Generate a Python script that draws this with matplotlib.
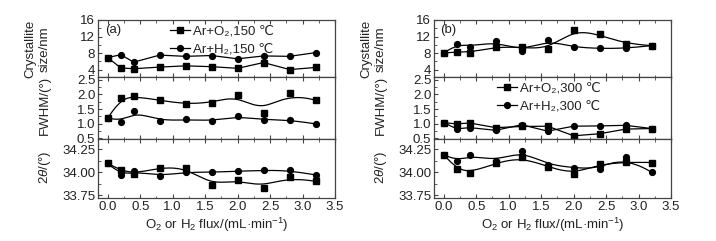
import numpy as np
import matplotlib
matplotlib.use("Agg")
import matplotlib.pyplot as plt
from matplotlib.ticker import MultipleLocator, FormatStrFormatter
from matplotlib.lines import Line2D

plt.rcParams['font.family'] = ['Liberation Sans', 'DejaVu Sans']
plt.rcParams['mathtext.fontset'] = 'custom'
plt.rcParams['mathtext.rm'] = 'Liberation Sans'
plt.rcParams['mathtext.it'] = 'Liberation Sans:italic'
FS = 9.5
plt.rcParams['font.size'] = FS

flux = [0.0, 0.2, 0.4, 0.8, 1.2, 1.6, 2.0, 2.4, 2.8, 3.2]

# (a) 150 C
size_o2_150 = [6.9, 4.4, 4.2, 4.6, 4.9, 4.7, 4.3, 5.7, 4.0, 4.5]
size_h2_150 = [6.9, 7.6, 5.8, 7.5, 7.2, 7.4, 6.6, 7.3, 7.2, 8.1]
fwhm_o2_150 = [1.19, 1.87, 1.94, 1.80, 1.67, 1.72, 1.97, 1.35, 2.06, 1.80]
fwhm_h2_150 = [1.20, 1.06, 1.44, 1.09, 1.14, 1.09, 1.25, 1.12, 1.13, 0.99]
tt_o2_150 = [34.095, 34.02, 33.98, 34.05, 34.05, 33.86, 33.92, 33.83, 33.95, 33.90]
tt_h2_150 = [34.095, 33.97, 34.01, 33.96, 34.00, 34.00, 34.01, 34.02, 34.02, 33.97]

# (b) 300 C
size_o2_300 = [8.0, 8.3, 8.1, 9.5, 9.4, 8.9, 13.6, 12.5, 10.2, 9.8]
size_h2_300 = [8.0, 10.2, 9.5, 10.8, 8.5, 11.1, 9.4, 9.1, 9.1, 9.8]
fwhm_o2_300 = [1.03, 0.99, 1.02, 0.86, 0.90, 0.91, 0.58, 0.65, 0.81, 0.83]
fwhm_h2_300 = [1.03, 0.82, 0.86, 0.77, 0.96, 0.74, 0.91, 0.92, 0.94, 0.83]
tt_o2_300 = [34.19, 34.03, 33.99, 34.10, 34.16, 34.06, 33.98, 34.09, 34.11, 34.105]
tt_h2_300 = [34.19, 34.12, 34.19, 34.12, 34.23, 34.08, 34.05, 34.03, 34.17, 34.00]

legend_a = ['Ar+O\u2082,150 \u2103', 'Ar+H\u2082,150 \u2103']
legend_b = ['Ar+O\u2082,300 \u2103', 'Ar+H\u2082,300 \u2103']


def bspline(xs, ys, n=300):
    """Clamped cubic B-spline using the data points as control points."""
    P = np.column_stack([xs, ys]).astype(float)
    m = len(P)
    k = 3
    inner = np.arange(1, m - k)
    knots = np.concatenate([np.zeros(k + 1), inner, np.full(k + 1, m - k)]).astype(float)
    t = np.linspace(0, m - k, n)
    t[-1] -= 1e-9
    N = np.zeros((n, len(knots) - 1))
    for i in range(len(knots) - 1):
        N[:, i] = (knots[i] <= t) & (t < knots[i + 1])
    for d in range(1, k + 1):
        Nn = np.zeros((n, len(knots) - 1 - d))
        for i in range(len(knots) - 1 - d):
            a = knots[i + d] - knots[i]
            b = knots[i + d + 1] - knots[i + 1]
            term = 0
            if a > 0:
                term = term + (t - knots[i]) / a * N[:, i]
            if b > 0:
                term = term + (knots[i + d + 1] - t) / b * N[:, i + 1]
            Nn[:, i] = term
        N = Nn
    C = N @ P
    return C[:, 0], C[:, 1]


W, H = 716, 241
fig = plt.figure(figsize=(W / 100, H / 100), dpi=100)


def fx(px):
    return px / W


def fy(top, bot):
    return (H - bot) / H, (bot - top) / H


rows = [(20, 77), (77, 139), (139, 198)]
cols = [98, 434]
width = 237

ylims = [(2.2, 16), (0.47, 2.6), (33.72, 34.36)]
ymaj = [4, 0.5, 0.25]
ymin = [2, 0.25, 0.125]
yfmt = ['%d', '%.1f', '%.2f']

data = [
    [(size_o2_150, size_h2_150), (fwhm_o2_150, fwhm_h2_150), (tt_o2_150, tt_h2_150)],
    [(size_o2_300, size_h2_300), (fwhm_o2_300, fwhm_h2_300), (tt_o2_300, tt_h2_300)],
]
smooth = [[False, True, True], [True, False, True]]

spine_c = '#444444'
txt_c = '#222222'
axes = {}
for c, left in enumerate(cols):
    for r, (top, bot) in enumerate(rows):
        b, h = fy(top, bot)
        ax = fig.add_axes([fx(left), b, fx(width), h])
        axes[(c, r)] = ax
        ax.set_xlim(-0.15, 3.5)
        ax.set_ylim(*ylims[r])
        ax.xaxis.set_major_locator(MultipleLocator(0.5))
        ax.xaxis.set_minor_locator(MultipleLocator(0.25))
        ax.yaxis.set_major_locator(MultipleLocator(ymaj[r]))
        ax.yaxis.set_minor_locator(MultipleLocator(ymin[r]))
        ax.yaxis.set_major_formatter(FormatStrFormatter(yfmt[r]))
        ax.xaxis.set_major_formatter(FormatStrFormatter('%.1f'))
        ax.tick_params(which='both', direction='in', top=True, bottom=True,
                       left=True, right=False, color=spine_c, labelsize=FS,
                       pad=2, labelcolor=txt_c)
        ax.tick_params(which='major', length=3)
        ax.tick_params(which='minor', length=1.8)
        if r < 2:
            ax.tick_params(labelbottom=False)
        for s in ax.spines.values():
            s.set_color(spine_c)
            s.set_linewidth(0.9)
        o2, h2 = data[c][r]
        for ys, mk in ((o2, 's'), (h2, 'o')):
            if smooth[c][r]:
                sx, sy = bspline(flux, ys)
                ax.plot(sx, sy, color='black', lw=0.9)
            else:
                ax.plot(flux, ys, color='black', lw=0.9)
            ax.plot(flux, ys, linestyle='none', marker=mk, color='black', ms=4.2)
        if r == 2:
            ax.set_xlabel('O$_2$ or H$_2$ flux/(mL·min$^{-1}$)', fontsize=FS,
                          labelpad=2, color=txt_c)

# y labels
for c, left in enumerate(cols):
    fig.text(fx(left - 68), 1 - 49 / H, 'Crystallite', rotation=90, ha='center',
             va='center', fontsize=FS, color=txt_c)
    fig.text(fx(left - 53), 1 - 49 / H, 'size/nm', rotation=90, ha='center',
             va='center', fontsize=FS, color=txt_c)
    fig.text(fx(left - 53), 1 - 105 / H, 'FWHM/(°)', rotation=90, ha='center',
             va='center', fontsize=FS, color=txt_c)
    fig.text(fx(left - 53), 1 - 167 / H, '2$\\it{θ}$/(°)', rotation=90, ha='center',
             va='center', fontsize=FS, color=txt_c)

axes[(0, 0)].text(0.03, 0.82, '(a)', transform=axes[(0, 0)].transAxes,
                  fontsize=FS, va='center', color=txt_c)
axes[(1, 0)].text(0.025, 0.82, '(b)', transform=axes[(1, 0)].transAxes,
                  fontsize=FS, va='center', color=txt_c)

handles = [Line2D([], [], color='black', marker='s', ms=4.2, lw=0.9),
           Line2D([], [], color='black', marker='o', ms=4.2, lw=0.9)]
leg_kw = dict(loc='upper left', frameon=False, fontsize=FS, handlelength=1.5,
              handletextpad=0.25, labelspacing=0.45, borderpad=0, borderaxespad=0)
leg = axes[(0, 0)].legend(handles, legend_a, bbox_to_anchor=(0.304, 0.91), **leg_kw)
for t in leg.get_texts():
    t.set_color(txt_c)
leg = axes[(1, 1)].legend(handles, legend_b, bbox_to_anchor=(0.266, 0.91), **leg_kw)
for t in leg.get_texts():
    t.set_color(txt_c)

fig.savefig('out.png', dpi=100, facecolor='white')
